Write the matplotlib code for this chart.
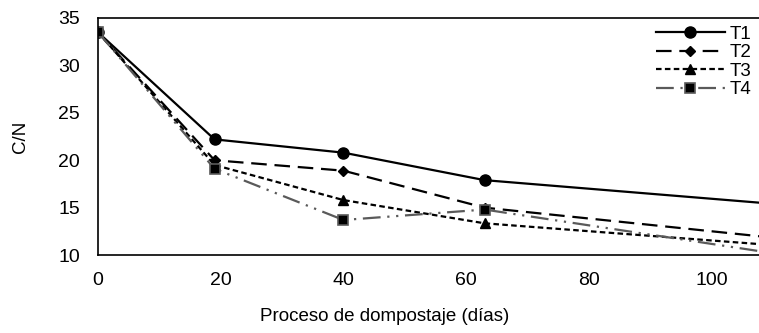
import matplotlib
matplotlib.use("Agg")
import matplotlib.pyplot as plt

plt.rcParams['font.family'] = ['Liberation Sans', 'DejaVu Sans']

# dias de muestreo y relacion C/N
dias = [0, 19, 40, 63, 112]
t1 = [33.5, 22.2, 20.8, 17.9, 15.3]
t2 = [33.5, 20.0, 18.9, 15.0, 11.7]
t3 = [33.5, 19.5, 15.8, 13.35, 10.95]
t4 = [33.5, 19.1, 13.7, 14.8, 10.0]

fig = plt.figure(figsize=(7.59, 3.33), dpi=100)
ax = fig.add_axes([0.129, 0.234, 0.871, 0.712])

ax.plot(dias, t1, color='black', lw=1.6, ls='-', marker='o', ms=8, label='T1')
ax.plot(dias, t2, color='black', lw=1.6, ls=(0, (7, 3.5)), marker='D', ms=5.5, label='T2')
ax.plot(dias, t3, color='black', lw=1.6, ls=(0, (2.5, 1.5)), marker='^', ms=7, label='T3')
ax.plot(dias, t4, color='#5a5a5a', lw=1.6, ls=(0, (8, 3, 1, 3, 1, 3)), marker='s', ms=7,
        mfc='black', mec='#5a5a5a', mew=1.2, label='T4')

ax.set_xlim(0, 107.7)
ax.set_ylim(10, 35)
ax.set_xticks([0, 20, 40, 60, 80, 100])
ax.set_yticks([10, 15, 20, 25, 30, 35])
ax.tick_params(axis='y', length=0, labelsize=14, pad=13)
ax.tick_params(axis='x', length=0, labelsize=14, pad=12)
ax.spines['right'].set_visible(False)
for s in ['left', 'bottom', 'top']:
    ax.spines[s].set_linewidth(1.2)

ax.set_xlabel('Proceso de dompostaje (días)', fontsize=13.5)
ax.xaxis.set_label_coords(0.433, -0.225)
ax.set_ylabel('C/N', fontsize=13.5)
ax.yaxis.set_label_coords(-0.104, 0.5)

ax.legend(loc='upper right', frameon=False, fontsize=13.5, handlelength=3.7,
          handletextpad=0.25, labelspacing=0.08, borderaxespad=0.0,
          bbox_to_anchor=(1.0, 1.0))

fig.savefig('out.png', dpi=100)
